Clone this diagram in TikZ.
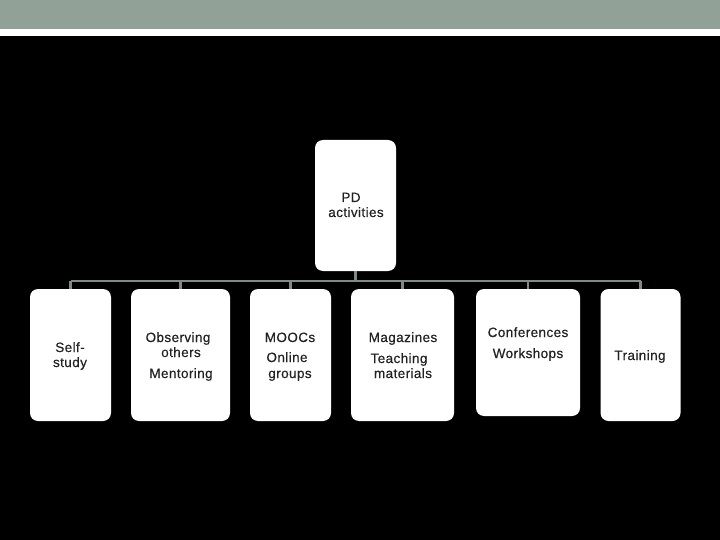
\documentclass[tikz,border=0pt]{standalone}
\usepackage{fontspec}
\setmainfont{Liberation Sans}
\newfontfamily\lblfont[LetterSpace=3,FakeBold=0.4]{Liberation Sans}
\definecolor{band}{RGB}{146,161,151}
\definecolor{conn}{RGB}{128,138,134}
\definecolor{txt}{RGB}{34,34,34}
\begin{document}
\begin{tikzpicture}[x=1pt,y=-1pt,
  box/.style={draw=none,fill=white,rounded corners=8pt,inner sep=0pt},
  lbl/.style={font=\lblfont\fontsize{13.5}{15}\selectfont,text=txt,inner sep=0pt,anchor=base},
  link/.style={draw=conn,line width=2.7pt}]
\useasboundingbox (0,0) rectangle (720,540);
\fill[black] (0,0) rectangle (720,540);
\fill[band] (0,0) rectangle (720,29);
\fill[white] (0,29) rectangle (720,36);
% boxes
\node[box,minimum width=81pt,minimum height=131pt] (root) at (355.5,205.5) {};
\node[box,minimum width=81pt,minimum height=132pt] (b1) at (70.5,355) {};
\node[box,minimum width=99pt,minimum height=132pt] (b2) at (180.5,355) {};
\node[box,minimum width=81pt,minimum height=132pt] (b3) at (290.5,355) {};
\node[box,minimum width=103pt,minimum height=132pt] (b4) at (402.5,355) {};
\node[box,minimum width=104pt,minimum height=127pt] (b5) at (528,352.5) {};
\node[box,minimum width=80pt,minimum height=132pt] (b6) at (640.5,355) {};
% connectors
\coordinate (bar) at (355.5,281);
\draw[link] (root.south) -- (bar);
\draw[link] (b1.north |- bar) -- (b6.north |- bar);
\foreach \b in {b1,b2,b3,b4,b5,b6}{\draw[link] (\b.north |- bar) -- (\b.north);}
% texts
\node[lbl] (t0a) at (351,202) {PD};
\node[lbl] (t0b) at (356,217) {activities};
\node[lbl] (t1a) at (70,352) {Self-};
\node[lbl] (t1b) at (70,367) {study};
\node[lbl] (t2a) at (178,342) {Observing};
\node[lbl] (t2b) at (181,357) {others};
\node[lbl] (t2c) at (181,378) {Mentoring};
\node[lbl] (t3a) at (290,342) {MOOCs};
\node[lbl] (t3b) at (287,362) {Online};
\node[lbl] (t3c) at (290,378) {groups};
\node[lbl] (t4a) at (403,342) {Magazines};
\node[lbl] (t4b) at (399,363) {Teaching};
\node[lbl] (t4c) at (403,378) {materials};
\node[lbl] (t5a) at (528,337) {Conferences};
\node[lbl] (t5b) at (528,358) {Workshops};
\node[lbl] (t6a) at (640,360) {Training};
\end{tikzpicture}
\end{document}
